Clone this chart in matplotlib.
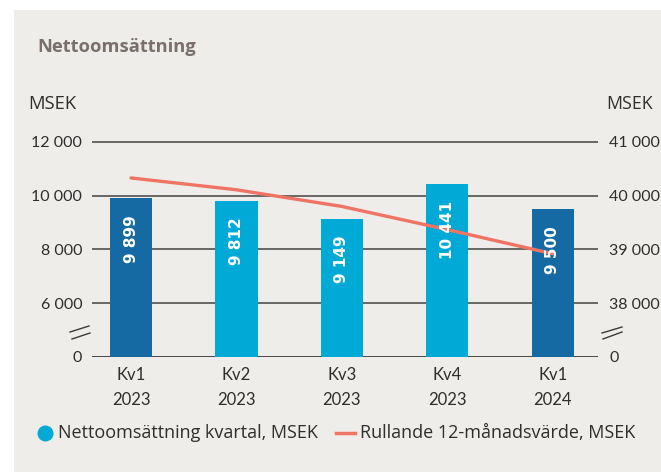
import numpy as np
import matplotlib
matplotlib.use("Agg")
import matplotlib.pyplot as plt
from matplotlib.patches import Rectangle
from matplotlib.lines import Line2D

categories = ["Kv1\n2023", "Kv2\n2023", "Kv3\n2023", "Kv4\n2023", "Kv1\n2024"]
quarterly = [9899, 9812, 9149, 10441, 9500]
quarterly_labels = ["9 899", "9 812", "9 149", "10 441", "9 500"]
rolling = [40330, 40110, 39800, 39370, 38920]
left_ticks = [0, 6000, 8000, 10000, 12000]
left_ticklabels = ["0", "6 000", "8 000", "10 000", "12 000"]
right_ticks = [0, 38000, 39000, 40000, 41000]
right_ticklabels = ["0", "38 000", "39 000", "40 000", "41 000"]
bar_colors = ["#156aa3", "#00a9d6", "#00a9d6", "#00a9d6", "#156aa3"]
legend_labels = ["Nettoomsättning kvartal, MSEK", "Rullande 12-månadsvärde, MSEK"]

W, H = 661, 472
fig = plt.figure(figsize=(W / 100, H / 100), dpi=100)
fig.patch.set_facecolor("white")
fig.patches.append(Rectangle((14 / W, 0), 1 - 14 / W, 1 - 10 / H, transform=fig.transFigure,
                             facecolor="#efedea", edgecolor="none", zorder=-10))

FONT = "Lato"
FONT2 = "Open Sans"
TXT = "#2e2e2e"
LINE_C = "#f07464"
CYAN = "#00a9d6"

def lf(v):
    v = np.asarray(v, dtype=float)
    return np.where(v >= 6000, v - 4000, v / 3)

def li(u):
    u = np.asarray(u, dtype=float)
    return np.where(u >= 2000, u + 4000, u * 3)

def rf(r):
    r = np.asarray(r, dtype=float)
    return np.where(r >= 38000, (r - 38000) * 2 + 2000, r * 2000 / 38000)

def ri(u):
    u = np.asarray(u, dtype=float)
    return np.where(u >= 2000, (u - 2000) / 2 + 38000, u * 38000 / 2000)

ax_left = 92 / W
ax_w = 506 / W
ax_bottom = (H - 357) / H
ax_top = (H - 125.8) / H
ax = fig.add_axes([ax_left, ax_bottom, ax_w, ax_top - ax_bottom])
ax.set_facecolor("none")
ax.set_yscale("function", functions=(lf, li))
ax.set_ylim(0, 12600)
ax.set_xlim(-0.37, 4.43)

x = np.arange(len(categories))
for t in left_ticks:
    ax.axhline(t, color="#5c5c5c" if t else "#3a3a3a", lw=1.3, zorder=0.5)
ax.bar(x, quarterly, width=0.4, color=bar_colors, zorder=2)

ax.set_yticks(left_ticks)
ax.set_yticklabels(left_ticklabels)
ax.set_xticks(x)
ax.set_xticklabels(categories, linespacing=1.7)
ax.tick_params(axis="both", length=0, labelsize=12, colors=TXT)
ax.tick_params(axis="y", pad=7, labelsize=11.5)
ax.tick_params(axis="x", pad=7.2)
for lab in ax.get_xticklabels() + ax.get_yticklabels():
    lab.set_fontfamily(FONT)
for s in ax.spines.values():
    s.set_visible(False)

ax2 = ax.twinx()
ax2.set_yscale("function", functions=(rf, ri))
ax2.set_ylim(0, 41300)
ax2.plot(x, rolling, color=LINE_C, lw=2.4, solid_capstyle="round", zorder=3)
ax2.set_yticks(right_ticks)
ax2.set_yticklabels(right_ticklabels)
ax2.tick_params(axis="y", length=0, labelsize=11.5, colors=TXT, pad=8)
for lab in ax2.get_yticklabels():
    lab.set_fontfamily(FONT)
for s in ax2.spines.values():
    s.set_visible(False)

for xi, v, lab in zip(x, quarterly, quarterly_labels):
    ax2.annotate(lab, xy=(xi, v), xycoords=ax.transData, xytext=(0, -12),
                 textcoords="offset points", rotation=90, ha="center", va="top",
                 color="white", fontsize=11, fontweight="bold",
                 family="DejaVu Sans", zorder=5)

# titles and unit labels
fig.text(37 / W, 1 - 47 / H, "Nettoomsättning", fontsize=13.2, fontweight="bold",
         color="#7a6f6a", family=FONT2, ha="left", va="center")
fig.text(28 / W, 1 - 104 / H, "MSEK", fontsize=13.3, color=TXT, family=FONT2,
         ha="left", va="center")
fig.text(606 / W, 1 - 104 / H, "MSEK", fontsize=12.8, color=TXT, family=FONT2,
         ha="left", va="center")

# axis break marks
def px_line(x0, y0, x1, y1, **kw):
    fig.add_artist(Line2D([x0 / W, x1 / W], [1 - y0 / H, 1 - y1 / H],
                          transform=fig.transFigure, **kw))

bk = dict(color="#3a3a3a", lw=1.0)
px_line(70, 332, 89, 326, **bk)
px_line(72, 339, 90, 333, **bk)
px_line(602, 333, 622, 327, **bk)
px_line(603, 339, 622, 332, **bk)

# legend (drawn manually)
ly = 1 - 433 / H
fig.add_artist(Line2D([45 / W], [ly], transform=fig.transFigure, marker="o",
                      markersize=11.5, markerfacecolor=CYAN, markeredgecolor="none",
                      color="none"))
fig.text(58 / W, ly, legend_labels[0], fontsize=13, color=TXT, family=FONT2,
         ha="left", va="center")
px_line(336, 433, 355, 433, color=LINE_C, lw=2.5)
fig.text(360 / W, ly, legend_labels[1], fontsize=13, color=TXT, family=FONT2,
         ha="left", va="center")

fig.savefig("out.png", dpi=100)
